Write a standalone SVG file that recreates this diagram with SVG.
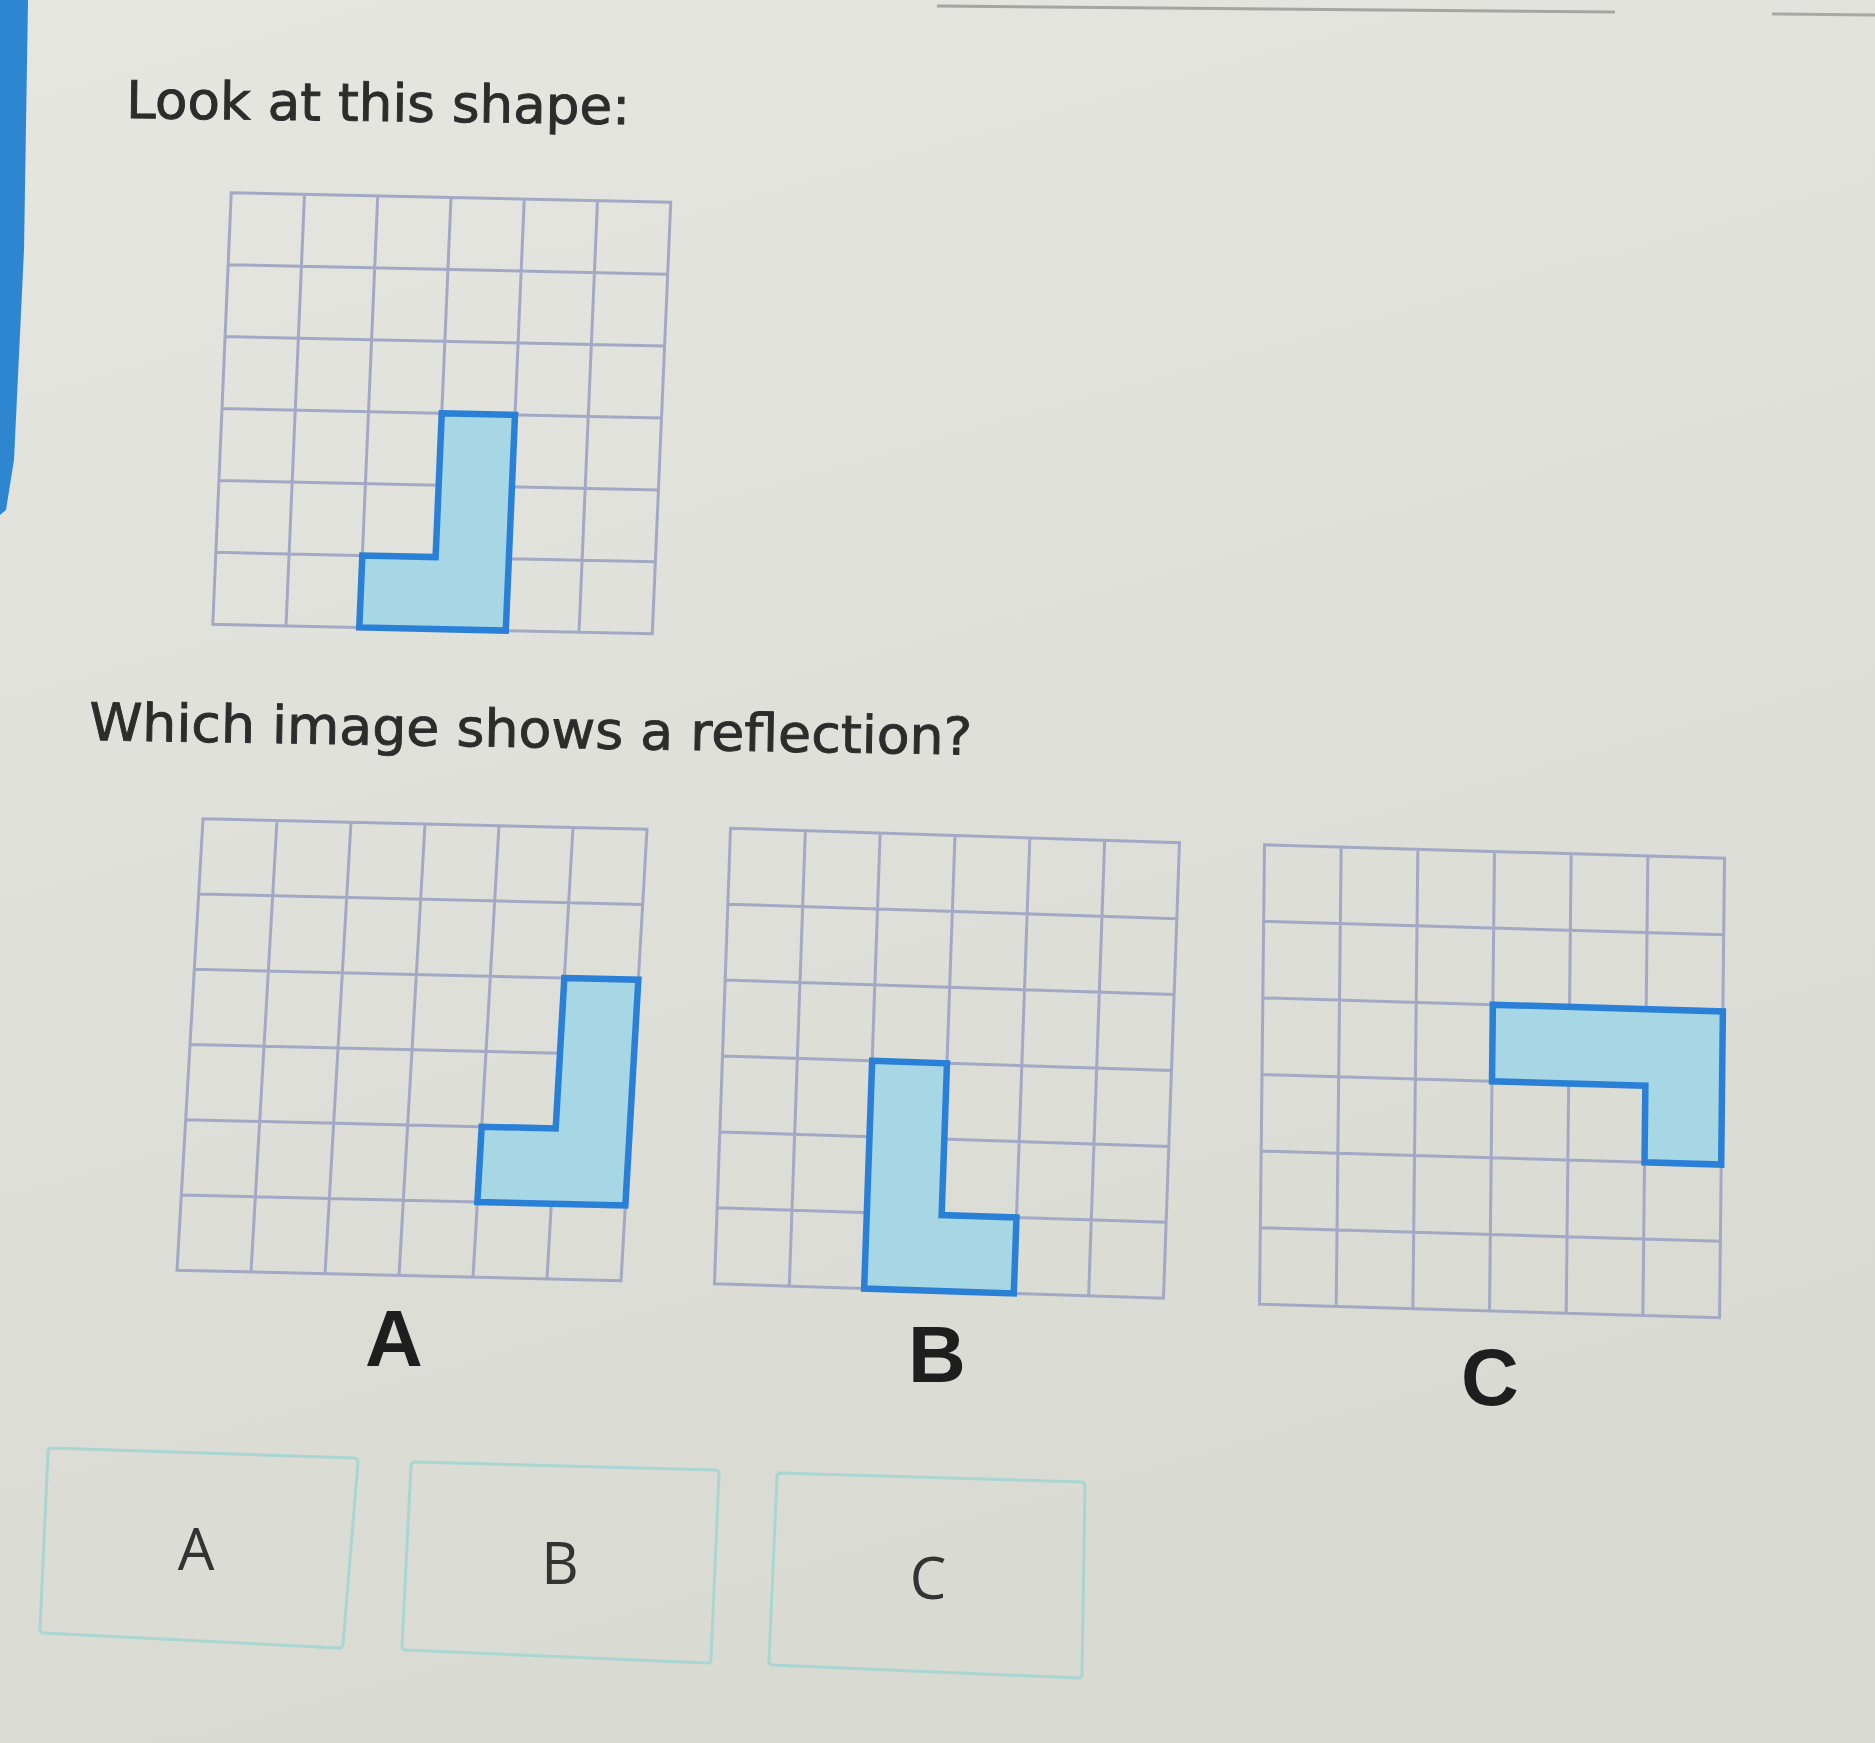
<svg xmlns="http://www.w3.org/2000/svg" width="1875" height="1743" viewBox="0 0 1875 1743">
<defs>
<linearGradient id="bg" x1="0" y1="0" x2="0.3" y2="1">
<stop offset="0" stop-color="#e5e6e0"/>
<stop offset="0.5" stop-color="#dfe0d9"/>
<stop offset="1" stop-color="#d9dad2"/>
</linearGradient>
</defs>
<style>
.grid{fill:none;stroke:#a3a9c5;stroke-width:3;vector-effect:non-scaling-stroke}
.shape{fill:#a7d6e4;stroke:#2a80d6;stroke-width:6.5;stroke-linejoin:miter;vector-effect:non-scaling-stroke}
.q{font-family:"DejaVu Sans",Verdana,sans-serif;font-size:52px;fill:#2c2c2c;stroke:#2c2c2c;stroke-width:0.9}
.lbl{font-family:"Liberation Sans",Arial,sans-serif;font-weight:bold;font-size:80px;fill:#1e1e1e;text-anchor:middle}
.btn{fill:none;stroke:#a9d5d3;stroke-width:3;stroke-linejoin:round}
.btxt{font-family:"Open Sans","Liberation Sans",sans-serif;font-size:58px;fill:#333333;text-anchor:middle}
</style>
<rect width="1875" height="1743" fill="url(#bg)"/>
<polygon points="0,0 28,0 24,250 14,460 6,510 0,515" fill="#2f86d0"/>
<line x1="937" y1="6" x2="1615" y2="12" stroke="#a5a5a2" stroke-width="3"/>
<line x1="1772" y1="14" x2="1875" y2="15" stroke="#a8a8a5" stroke-width="3"/>

<g id="question-1">
<text class="q" x="126" y="118" textLength="504" lengthAdjust="spacingAndGlyphs" transform="rotate(0.7 126 118)">Look at this shape:</text>
</g>

<g id="grid-original" transform="matrix(73.25 1.58 -3.08 71.92 231.25 192.75)">
<path class="grid" d="M0 0H6V6H0Z M1 0V6 M2 0V6 M3 0V6 M4 0V6 M5 0V6 M0 1H6 M0 2H6 M0 3H6 M0 4H6 M0 5H6"/>
<polygon class="shape" points="3,3 4,3 4,6 2,6 2,5 3,5"/>
</g>

<g id="question-2">
<text class="q" x="89" y="740" textLength="883" lengthAdjust="spacingAndGlyphs" transform="rotate(0.95 89 740)">Which image shows a reflection?</text>
</g>

<g id="grid-A" transform="matrix(74 1.75 -4.33 75.25 203 818.75)">
<path class="grid" d="M0 0H6V6H0Z M1 0V6 M2 0V6 M3 0V6 M4 0V6 M5 0V6 M0 1H6 M0 2H6 M0 3H6 M0 4H6 M0 5H6"/>
<polygon class="shape" points="5,2 6,2 6,5 4,5 4,4 5,4"/>
</g>
<g id="label-A"><text class="lbl" x="394" y="1366">A</text></g>

<g id="grid-B" transform="matrix(74.83 2.42 -2.67 75.92 730.5 828.25)">
<path class="grid" d="M0 0H6V6H0Z M1 0V6 M2 0V6 M3 0V6 M4 0V6 M5 0V6 M0 1H6 M0 2H6 M0 3H6 M0 4H6 M0 5H6"/>
<polygon class="shape" points="2,3 3,3 3,5 4,5 4,6 2,6"/>
</g>
<g id="label-B"><text class="lbl" x="937" y="1382">B</text></g>

<g id="grid-C" transform="matrix(76.67 2.25 -0.83 76.58 1264.5 844.75)">
<path class="grid" d="M0 0H6V6H0Z M1 0V6 M2 0V6 M3 0V6 M4 0V6 M5 0V6 M0 1H6 M0 2H6 M0 3H6 M0 4H6 M0 5H6"/>
<polygon class="shape" points="3,2 6,2 6,4 5,4 5,3 3,3"/>
</g>
<g id="label-C"><text class="lbl" x="1490" y="1405">C</text></g>

<g id="button-A">
<path class="btn" d="M52 1448 L354 1458 Q358 1458 358 1462 L343 1644 Q343 1648 339 1648 L44 1633 Q40 1633 40 1629 L48 1452 Q48 1448 52 1448Z"/>
<text class="btxt" x="196" y="1570">A</text>
</g>
<g id="button-B">
<path class="btn" d="M415 1462 L715 1470 Q719 1470 719 1474 L711 1659 Q711 1663 707 1663 L406 1650 Q402 1650 402 1646 L411 1466 Q411 1462 415 1462Z"/>
<text class="btxt" x="560" y="1584">B</text>
</g>
<g id="button-C">
<path class="btn" d="M781 1473 L1081 1482 Q1085 1482 1085 1486 L1082 1674 Q1082 1678 1078 1678 L773 1665 Q769 1665 769 1661 L777 1477 Q777 1473 781 1473Z"/>
<text class="btxt" x="928" y="1599">C</text>
</g>
</svg>
